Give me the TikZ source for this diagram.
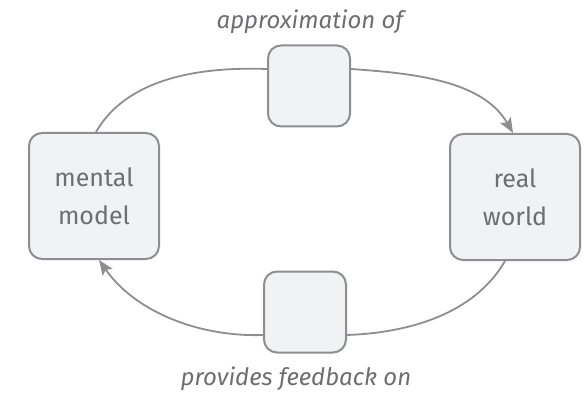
\documentclass[tikz,border=0pt]{standalone}
\usepackage{fontspec}
\setmainfont{Fira Sans}
\usetikzlibrary{arrows.meta}
\definecolor{boxfill}{HTML}{F1F2F4}
\definecolor{boxline}{HTML}{8E8E92}
\definecolor{txt}{HTML}{6E6E70}
\begin{document}
\begin{tikzpicture}[x=1pt,y=1pt,
  bigbox/.style={draw=boxline,fill=boxfill,line width=2pt,rounded corners=13pt,
    minimum width=130pt,minimum height=126pt,align=center,text=txt,
    font=\fontsize{25}{38}\selectfont},
  smallbox/.style={draw=boxline,fill=boxfill,line width=2pt,rounded corners=13pt,
    minimum width=82pt,minimum height=81pt},
  lbl/.style={text=txt,font=\fontsize{24}{26}\selectfont\itshape},
  conn/.style={draw=boxline,line width=1.8pt},
  tip/.style={-{Stealth[length=15pt,width=12pt,inset=3pt]}}]
\useasboundingbox (0,0) rectangle (588,394);
\node[bigbox] (mm) at (94,198) {mental\\model};
\node[bigbox] (rw) at (515,197) {real\\world};
\node[smallbox] (top) at (309,308) {};
\node[smallbox] (bot) at (305,82) {};
\node[lbl] (tl) at (310,372) {approximation of};
\node[lbl] (bl) at (296,15) {provides feedback on};
\coordinate (tw) at ([yshift=17pt]top.west);
\coordinate (te) at ([yshift=17pt]top.east);
\coordinate (bw) at ([yshift=-23pt]bot.west);
\coordinate (be) at ([yshift=-23pt]bot.east);
\draw[conn] ([xshift=2pt]mm.north) to[out=60,in=178,looseness=0.9] (tw);
\draw[conn,tip] (te) to[out=-4,in=120,looseness=0.9] ([xshift=-2pt]rw.north);
\draw[conn] ([xshift=-10pt]rw.south) to[out=-120,in=2,looseness=0.9] (be);
\draw[conn,tip] (bw) to[out=182,in=-55,looseness=0.9] ([xshift=5pt]mm.south);
\end{tikzpicture}
\end{document}
